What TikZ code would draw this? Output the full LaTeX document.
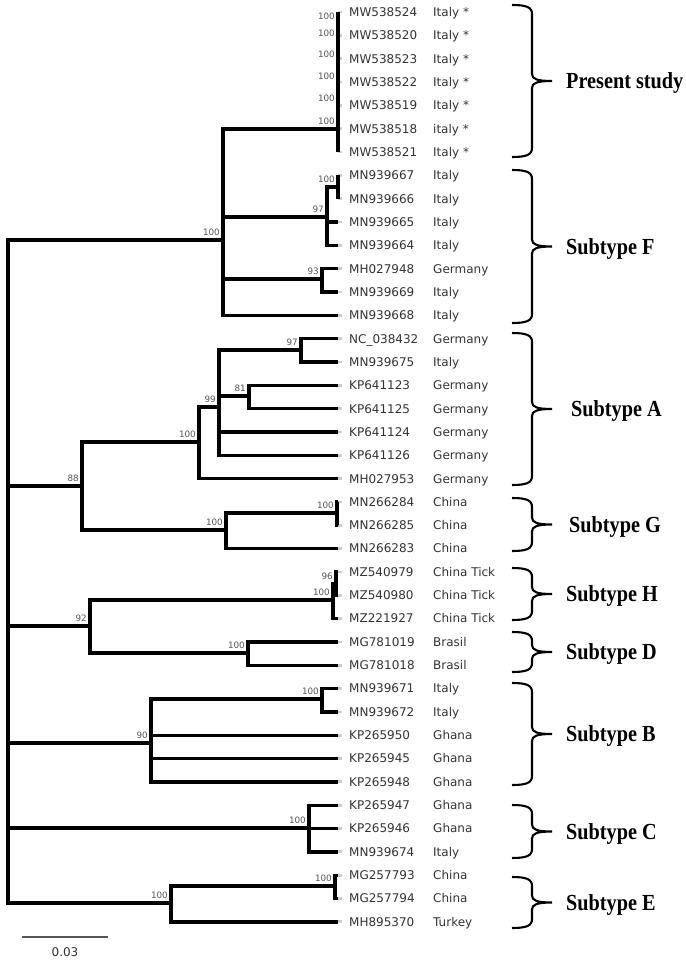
\documentclass[tikz,border=0pt]{standalone}
\usepackage{fontspec}
\setmainfont{DejaVu Sans}
\newfontfamily\cladefont[FakeStretch=0.88]{Liberation Serif}
\usepackage{xcolor}
\usepackage{tikz}
\definecolor{tipgray}{HTML}{333333}
\definecolor{bsgray}{HTML}{555555}
\definecolor{stubgray}{HTML}{CDCDCD}
\definecolor{bargray}{HTML}{555555}

\begin{document}
\catcode`\_=12
\begin{tikzpicture}[x=1pt, y=-1pt,
    branch/.style={line width=3.3pt, line join=miter},
    stub/.style={line width=2.8pt, stubgray},
    tipid/.style={anchor=base west, inner sep=0pt, yshift=-4.4pt, text=tipgray, font=\fontsize{12}{14}\selectfont},
    bs/.style={anchor=south east, inner sep=0pt, xshift=-3pt, yshift=4pt, text=bsgray, font=\fontsize{8.8}{10}\selectfont},
    cbrace/.style={line width=2.1pt},
    cladelab/.style={anchor=base west, inner sep=0pt, font=\cladefont\bfseries\fontsize{23}{24}\selectfont}]
\useasboundingbox (0,0) rectangle (685,960);

% tips
\foreach \acc/\cty [count=\i from 0] in {
    MW538524/Italy *, MW538520/Italy *, MW538523/Italy *, MW538522/Italy *,
    MW538519/Italy *, MW538518/italy *, MW538521/Italy *,
    MN939667/Italy, MN939666/Italy, MN939665/Italy, MN939664/Italy,
    MH027948/Germany, MN939669/Italy, MN939668/Italy,
    NC_038432/Germany, MN939675/Italy, KP641123/Germany, KP641125/Germany,
    KP641124/Germany, KP641126/Germany, MH027953/Germany,
    MN266284/China, MN266285/China, MN266283/China,
    MZ540979/China Tick, MZ540980/China Tick, MZ221927/China Tick,
    MG781019/Brasil, MG781018/Brasil,
    MN939671/Italy, MN939672/Italy, KP265950/Ghana, KP265945/Ghana, KP265948/Ghana,
    KP265947/Ghana, KP265946/Ghana, MN939674/Italy,
    MG257793/China, MG257794/China, MH895370/Turkey}{
  \coordinate (\acc) at (338,{12+23.33*\i});
  \draw[stub] (\acc) -- ++(4,0);
  \node[tipid] (id\acc) at (349,{12+23.33*\i}) {\acc};
  \node[tipid] (cty\acc) at (433,{12+23.33*\i}) {\cty};
}

% internal nodes
\coordinate (root) at (8,570);
\coordinate (PF) at (223,240);
\foreach \nd/\ry in {P1/0.5, P2/1.25, P3/2.125, P4/3.0625, P5/4.03125, P6/5.015625}
  \coordinate (\nd) at (338,{12+23.33*\ry});
\coordinate (F97) at (327,217);
\coordinate (F100) at (338,187);
\coordinate (F93) at (322,279);
\coordinate (AG) at (82,486);
\coordinate (A100) at (199,442);
\coordinate (A99) at (219,407);
\coordinate (A97) at (301,350);
\coordinate (A81) at (249,396);
\coordinate (G100) at (226,530);
\coordinate (G100b) at (337,513);
\coordinate (HD) at (90,626);
\coordinate (H100) at (333,600);
\coordinate (H96) at (336,584);
\coordinate (D100) at (248,653);
\coordinate (Bc) at (151,743);
\coordinate (B100) at (322,699);
\coordinate (Cc) at (309,828);
\coordinate (Ec) at (171,903);
\coordinate (E100) at (335,886);

% branches
\foreach \pa/\ch in {root/PF, root/AG, root/HD, root/Bc, root/Cc, root/Ec,
    PF/P6, PF/F97, PF/F93, PF/MN939668,
    P1/MW538524, P1/MW538520, P2/P1, P2/MW538523, P3/P2, P3/MW538522,
    P4/P3, P4/MW538519, P5/P4, P5/MW538518, P6/P5, P6/MW538521,
    F97/F100, F97/MN939665, F97/MN939664, F100/MN939667, F100/MN939666,
    F93/MH027948, F93/MN939669,
    AG/A100, AG/G100, A100/A99, A100/MH027953,
    A99/A97, A99/A81, A99/KP641124, A99/KP641126,
    A97/NC_038432, A97/MN939675, A81/KP641123, A81/KP641125,
    G100/G100b, G100/MN266283, G100b/MN266284, G100b/MN266285,
    HD/H100, HD/D100, H100/H96, H100/MZ221927, H96/MZ540979, H96/MZ540980,
    D100/MG781019, D100/MG781018,
    Bc/B100, Bc/KP265950, Bc/KP265945, Bc/KP265948, B100/MN939671, B100/MN939672,
    Cc/KP265947, Cc/KP265946, Cc/MN939674,
    Ec/E100, Ec/MH895370, E100/MG257793, E100/MG257794}
  \draw[branch] (\pa) |- (\ch);

% bootstrap values
\foreach \nd/\val in {PF/100, P1/100, P2/100, P3/100, P4/100, P5/100, P6/100,
    F97/97, F100/100, F93/93, AG/88, A100/100, A99/99, A97/97, A81/81,
    G100/100, G100b/100, HD/92, H100/100, H96/96, D100/100,
    Bc/90, B100/100, Cc/100, Ec/100, E100/100}
  \node[bs] (bs\nd) at (\nd) {\val};

% clade braces
\foreach \ytop/\ybot/\lx/\lab [count=\k] in {5/157/566/Present study, 170/323/566/Subtype F,
    333/485/571/Subtype A, 498/551/569/Subtype G, 568/620/566/Subtype H,
    632/672/566/Subtype D, 683/785/566/Subtype B, 805/858/566/Subtype C,
    877/928/566/Subtype E}{
  \pgfmathsetmacro\ymid{(\ytop+\ybot)/2}
  \draw[cbrace] (512,\ytop) .. controls (526,\ytop) and (532,\ytop+2) .. (532,\ytop+9)
    -- (532,\ymid-7) .. controls (532,\ymid-2) and (537,\ymid) .. (552,\ymid)
    .. controls (537,\ymid) and (532,\ymid+2) .. (532,\ymid+7)
    -- (532,\ybot-9) .. controls (532,\ybot-2) and (526,\ybot) .. (512,\ybot);
  \node[cladelab] (clade\k) at (\lx,\ymid+7.5) {\lab};
}

% scale bar
\coordinate (sbL) at (22,937);
\coordinate (sbR) at (108,937);
\draw[line width=1.4pt, bargray] (sbL) -- (sbR);
\node[text=tipgray, font=\fontsize{12}{14}\selectfont, inner sep=0pt] (sblab) at (65,952) {0.03};
\end{tikzpicture}
\end{document}
